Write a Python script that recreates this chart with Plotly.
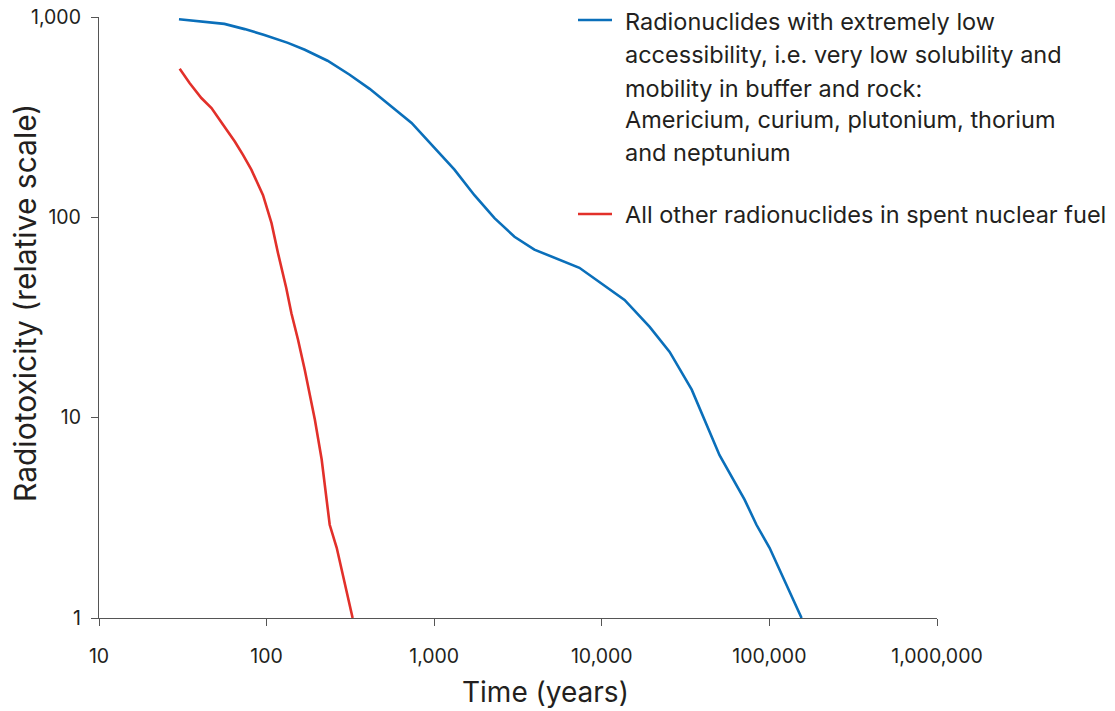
import plotly.graph_objects as go

# ---- data ----
years_low_access = [30, 56, 74, 97, 134, 169, 231, 313, 412, 542, 733, 1004, 1321, 1738,
                    2290, 3013, 3960, 7350, 9680, 13670, 19300, 25400, 34400, 50400,
                    71100, 83700, 100200, 155600]
tox_low_access = [975, 924, 870, 814, 743, 686, 605, 515, 438, 365, 296, 222, 173, 129,
                  99, 80, 69, 56, 47.6, 38.7, 28.4, 21.3, 13.8, 6.5,
                  3.9, 2.92, 2.24, 1.0]

years_other = [30.3, 34.7, 40.8, 46.9, 55, 64.6, 72.3, 81.1, 95.2, 107, 117, 131, 140.6,
               154, 169, 194, 213, 238, 262, 284, 326]
tox_other = [551, 468, 394, 351, 290, 239, 205, 173, 129, 93.5, 66.2, 44.4, 33.2,
             24.5, 17.3, 9.8, 6.2, 2.92, 2.24, 1.64, 1.0]

x_tickvals = [10, 100, 1000, 10000, 100000, 1000000]
x_ticktext = ["10", "100", "1,000", "10,000", "100,000", "1,000,000"]
y_tickvals = [1, 10, 100, 1000]
y_ticktext = ["1", "10", "100", "1,000"]

legend_blue = ["Radionuclides with extremely low",
               "accessibility, i.e. very low solubility and",
               "mobility in buffer and rock:",
               "Americium, curium, plutonium, thorium",
               "and neptunium"]
legend_red = ["All other radionuclides in spent nuclear fuel"]

x_title = "Time (years)"
y_title = "Radiotoxicity (relative scale)"

# ---- styling ----
BLUE = "#0a6fba"
RED = "#e2302a"
TEXT = "#231f20"
AXIS = "#555555"
FONT = "Inter, Liberation Sans, Arial, sans-serif"

W, H = 1115, 711
PL, PT, PR, PB = 99, 17, 937, 618  # plot area in page pixels
L, T = PL, PT
PW, PH = PR - PL, PB - PT
R, B = W - L - PW, H - T - PH


def px(xp):
    return (xp - PL) / PW


def py(yp):
    return 1 - (yp - PT) / PH


fig = go.Figure()
fig.add_trace(go.Scatter(x=years_low_access, y=tox_low_access, mode="lines",
                         line=dict(color=BLUE, width=2.6), name=legend_blue[0]))
fig.add_trace(go.Scatter(x=years_other, y=tox_other, mode="lines",
                         line=dict(color=RED, width=2.6), name=legend_red[0]))

annotations = []
shapes = []
# legend drawn manually
blue_y = [22, 55, 88, 120, 152]
for txt, yy in zip(legend_blue, blue_y):
    annotations.append(dict(text=txt, xref="paper", yref="paper", x=px(623), y=py(yy),
                            xanchor="left", yanchor="middle", showarrow=False,
                            font=dict(size=23.5, color=TEXT, family=FONT)))
annotations.append(dict(text=legend_red[0], xref="paper", yref="paper", x=px(623), y=py(215),
                        xanchor="left", yanchor="middle", showarrow=False,
                        font=dict(size=23.5, color=TEXT, family=FONT)))
shapes.append(dict(type="line", xref="paper", yref="paper", x0=px(578), x1=px(612),
                   y0=py(20), y1=py(20), line=dict(color=BLUE, width=2.6)))
shapes.append(dict(type="line", xref="paper", yref="paper", x0=px(578), x1=px(612),
                   y0=py(214), y1=py(214), line=dict(color=RED, width=2.6)))

# axis titles
annotations.append(dict(text=y_title, xref="paper", yref="paper", x=px(25), y=py(303),
                        xanchor="center", yanchor="middle", textangle=-90, showarrow=False,
                        font=dict(size=30, color=TEXT, family=FONT)))
annotations.append(dict(text=x_title, xref="paper", yref="paper", x=px(545), y=py(692),
                        xanchor="center", yanchor="middle", showarrow=False,
                        font=dict(size=28, color=TEXT, family=FONT)))

fig.update_layout(
    width=W, height=H,
    margin=dict(l=L, r=R, t=T, b=B, autoexpand=False),
    paper_bgcolor="white", plot_bgcolor="white",
    showlegend=False,
    font=dict(family=FONT, color=TEXT),
    annotations=annotations,
    shapes=shapes,
)
fig.update_xaxes(type="log", range=[1, 6], tickvals=x_tickvals, ticktext=x_ticktext,
                 showgrid=False, zeroline=False, showline=True, linecolor=AXIS, linewidth=1.3,
                 ticks="outside", ticklen=7, tickcolor=AXIS, tickwidth=1.3, automargin=False,
                 ticklabeloverflow="allow",
                 tickfont=dict(size=19.5, color=TEXT, family=FONT), ticklabelstandoff=13)
fig.update_yaxes(type="log", range=[0, 3], tickvals=y_tickvals, ticktext=y_ticktext,
                 showgrid=False, zeroline=False, showline=True, linecolor=AXIS, linewidth=1.3,
                 ticks="outside", ticklen=7, tickcolor=AXIS, tickwidth=1.3, automargin=False,
                 ticklabeloverflow="allow",
                 tickfont=dict(size=19.5, color=TEXT, family=FONT), ticklabelstandoff=6)

fig.write_html(
    "out.html",
    config={"displayModeBar": False},
    post_script="document.body.style.margin='0';"
                "document.documentElement.style.overflow='hidden';"
                "document.body.style.overflow='hidden';",
)
